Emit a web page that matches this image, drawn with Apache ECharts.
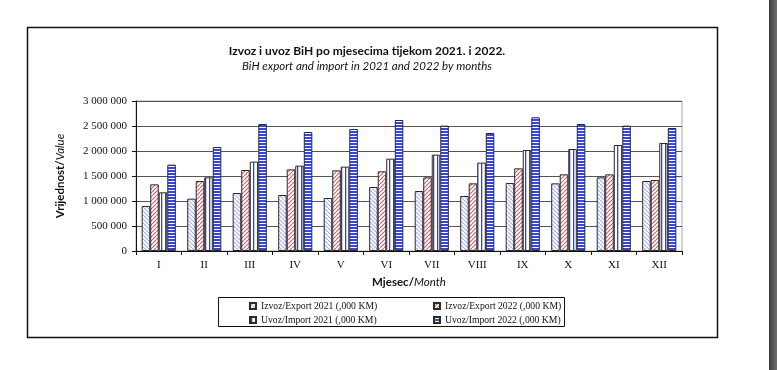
<!DOCTYPE html>
<html>
<head>
<meta charset="utf-8">
<script src="https://cdn.jsdelivr.net/npm/echarts@6/dist/echarts.min.js"></script>
<style>
html,body{margin:0;padding:0;background:#fff;}
#c{width:777px;height:370px;}
</style>
</head>
<body>
<div id="c"></div>
<script>
// ---- data ----
var months = ['I','II','III','IV','V','VI','VII','VIII','IX','X','XI','XII'];
var seriesNames = ['Izvoz/Export 2021 (,000 KM)','Izvoz/Export 2022 (,000 KM)','Uvoz/Import 2021 (,000 KM)','Uvoz/Import 2022 (,000 KM)'];
var export2021 = [900000,1047000,1160000,1120000,1060000,1280000,1200000,1100000,1360000,1353000,1473000,1400000];
var export2022 = [1333000,1400000,1620000,1633000,1613000,1593000,1473000,1353000,1653000,1533000,1533000,1420000];
var import2021 = [1173000,1473000,1787000,1707000,1687000,1847000,1927000,1767000,2020000,2040000,2120000,2160000];
var import2022 = [1727000,2080000,2540000,2380000,2440000,2620000,2507000,2360000,2673000,2540000,2507000,2460000];
var yTicks = [0,500000,1000000,1500000,2000000,2500000,3000000];

// ---- patterns ----
function diag(color, dir){
  var c=document.createElement('canvas'); c.width=4; c.height=4;
  var g=c.getContext('2d'); g.fillStyle='#fff'; g.fillRect(0,0,4,4);
  g.strokeStyle=color; g.lineWidth=1.2;
  for(var k=-8;k<=8;k+=4){
    g.beginPath();
    if(dir>0){ g.moveTo(k,0); g.lineTo(k+4,4); }
    else { g.moveTo(k+4,0); g.lineTo(k,4); }
    g.stroke();
  }
  return {image:c, repeat:'repeat'};
}
function vstripe(){
  var c=document.createElement('canvas'); c.width=4; c.height=4;
  var g=c.getContext('2d'); g.fillStyle='#fff'; g.fillRect(0,0,4,4);
  g.fillStyle='#3040d8'; g.fillRect(1,0,1,4);
  g.fillStyle='#c8ccf4'; g.fillRect(2,0,1,4);
  return {image:c, repeat:'repeat'};
}
function hstripe(){
  var c=document.createElement('canvas'); c.width=3; c.height=3;
  var g=c.getContext('2d'); g.fillStyle='#3545ec'; g.fillRect(0,0,3,3);
  g.fillStyle='#ffffff'; g.fillRect(0,1,3,1);
  return {image:c, repeat:'repeat'};
}
var pats = [diag('#a9b2f0',1), diag('#c86878',-1), vstripe(), hstripe()];
var datas = [export2021, export2022, import2021, import2022];

function fmt(v){ return String(v).replace(/\B(?=(\d{3})+(?!\d))/g,' '); }

var chart = echarts.init(document.getElementById('c'), null, {renderer:'canvas'});
var series = seriesNames.map(function(n,i){
  return {
    name:n, type:'bar', data:datas[i],
    barGap:'0%', barCategoryGap:'25%',
    itemStyle:{color:pats[i], borderColor:'#2a2a2a', borderWidth:1},
    emphasis:{disabled:true}
  };
});
var legendText = {fontFamily:'Liberation Serif', fontSize:9.7, color:'#111'};
var legPos = [[249,301],[433,301],[249,315],[433,315]];
var legends = seriesNames.map(function(n,i){
  return {data:[n], left:legPos[i][0], top:legPos[i][1], padding:0, itemWidth:6, itemHeight:6,
    icon:'rect', textStyle:legendText, selectedMode:false};
});
var nameFont = 'Lato';
chart.setOption({
  animation:false,
  title:{
    text:'Izvoz i uvoz BiH po mjesecima tijekom 2021. i 2022.',
    subtext:'BiH export and import in 2021 and 2022 by months',
    left:362, top:40, textAlign:'center', itemGap:3,
    textStyle:{fontFamily:nameFont, fontWeight:'bold', fontSize:12, color:'#111'},
    subtextStyle:{fontFamily:nameFont, fontStyle:'italic', fontSize:11.5, color:'#111'}
  },
  legend:legends,
  grid:{left:136, right:95, top:101, bottom:119, show:true, borderColor:'#aaa', borderWidth:1},
  xAxis:{
    type:'category', data:months,
    name:'{b|Mjesec/}{i|Month}', nameLocation:'middle', nameGap:25,
    nameTextStyle:{rich:{
      b:{fontFamily:nameFont, fontWeight:'bold', fontSize:11.5, color:'#111'},
      i:{fontFamily:nameFont, fontStyle:'italic', fontSize:11.5, color:'#111'}}},
    axisLine:{lineStyle:{color:'#111', width:1}},
    axisTick:{show:true, length:4, lineStyle:{color:'#111'}},
    axisLabel:{fontFamily:'Liberation Serif', fontSize:11, color:'#111', margin:9}
  },
  yAxis:{
    type:'value', min:0, max:3000000, interval:500000,
    name:'{b|Vrijednost/}{i|Value}', nameLocation:'middle', nameGap:70, nameRotate:90,
    nameTextStyle:{rich:{
      b:{fontFamily:nameFont, fontWeight:'bold', fontSize:11.5, color:'#111'},
      i:{fontFamily:nameFont, fontStyle:'italic', fontSize:11.5, color:'#111'}}},
    axisLine:{show:true, lineStyle:{color:'#111', width:1}},
    axisTick:{show:true, length:4, lineStyle:{color:'#111'}},
    splitLine:{lineStyle:{color:'#555', width:1}},
    axisLabel:{fontFamily:'Liberation Serif', fontSize:11, color:'#111', margin:9,
      formatter:function(v){ return yTicks.indexOf(v)>=0 ? fmt(v) : ''; }}
  },
  graphic:[
    {type:'rect', shape:{x:27.5, y:27.5, width:690, height:310}, style:{fill:null, stroke:'#111', lineWidth:1.5}, silent:true, z:-1},
    {type:'rect', shape:{x:218.5, y:297.5, width:346, height:29}, style:{fill:null, stroke:'#111', lineWidth:1}, silent:true},
    {type:'rect', shape:{x:769, y:0, width:8, height:370}, style:{fill:{type:'linear',x:0,y:0,x2:1,y2:0,colorStops:[{offset:0,color:'#3e3e3e'},{offset:1,color:'#6e6e6e'}]}}, silent:true}
  ],
  series:series
});
</script>
</body>
</html>
